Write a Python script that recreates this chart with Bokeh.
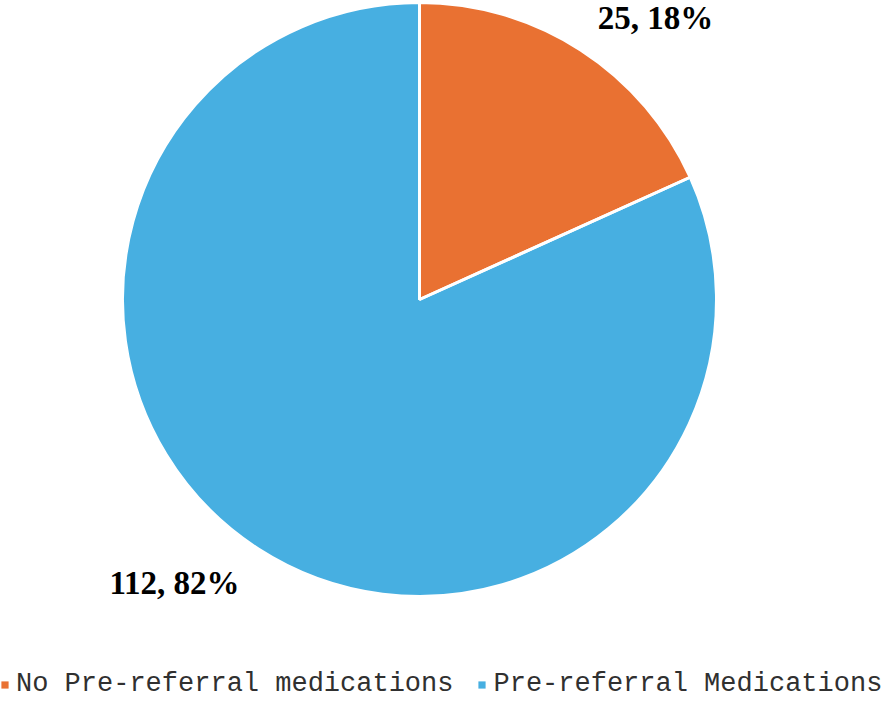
import math
from bokeh.plotting import figure
from bokeh.models import Legend, LegendItem, ColumnDataSource
from bokeh.core.properties import value
from bokeh.embed import file_html
from bokeh.resources import INLINE

categories = ["No Pre-referral medications", "Pre-referral Medications"]
counts = [25, 112]
percents = [18, 82]
colors = ["#E97132", "#47AFE1"]
label_texts = ["25, 18%", "112, 82%"]

W, H = 885, 699
cx, cy, R = 419, 400, 297

total = sum(counts)
starts, ends = [], []
a = math.pi / 2
for c in counts:
    sweep = 2 * math.pi * c / total
    # clockwise from top
    ends.append(a)
    starts.append(a - sweep)
    a -= sweep

src = ColumnDataSource(dict(
    x=[cx] * len(counts), y=[cy] * len(counts),
    start=starts, end=ends, color=colors, cat=categories,
))

p = figure(width=W, height=H, x_range=(0, W), y_range=(0, H),
           output_backend="svg", toolbar_location=None,
           min_border=0, outline_line_color=None)
p.axis.visible = False
p.grid.visible = False
p.background_fill_color = "white"
p.border_fill_color = "white"

wedge_renderers = []
for i in range(len(counts)):
    r = p.wedge(x=cx, y=cy, radius=R, start_angle=starts[i], end_angle=ends[i],
                fill_color=colors[i], line_color=None)
    wedge_renderers.append(r)
# white separators
p.wedge(x="x", y="y", radius=R, start_angle="start", end_angle="end",
        fill_alpha=0, line_color="white", line_width=3, source=src)

# data labels
lab_x = [655, 174]
lab_y = [682, 117]
p.text(x=lab_x, y=lab_y, text=label_texts, text_font=value("Liberation Serif"),
       text_font_style="bold", text_font_size="33px", text_align="center",
       text_baseline="middle", text_color="black")

legend = Legend(items=[LegendItem(label=categories[i], renderers=[wedge_renderers[i]])
                       for i in range(len(counts))],
                orientation="horizontal", location=(0, 0), padding=0, margin=0,
                border_line_alpha=0, background_fill_alpha=0,
                glyph_width=9, glyph_height=9, label_standoff=7, spacing=24,
                label_text_font="Liberation Mono", label_text_font_size="27px",
                label_text_color="#303030")
p.add_layout(legend)

open("out.html", "w").write(file_html(p, INLINE))
